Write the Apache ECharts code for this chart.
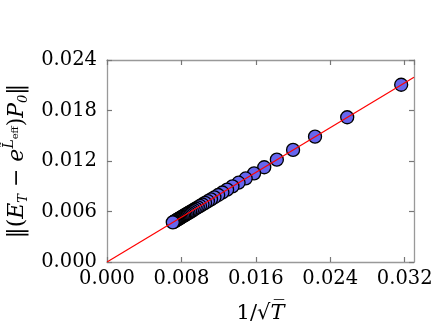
<!DOCTYPE html>
<html>
<head>
<meta charset="utf-8">
<script src="https://cdn.jsdelivr.net/npm/echarts@6/dist/echarts.min.js"></script>
<style>
  html, body { margin: 0; padding: 0; background: #fff; }
  #chart { width: 436px; height: 327px; }
</style>
</head>
<body>
<div id="chart"></div>
<script>
// 1/sqrt(T), T = 1000 ... 20000 (largest first)
const invSqrtT = [
  0.031623, 0.025820, 0.022361, 0.020000, 0.018257, 0.016903, 0.015811, 0.014907,
  0.014142, 0.013484, 0.012910, 0.012403, 0.011952, 0.011547, 0.011180, 0.010847,
  0.010541, 0.010260, 0.010000, 0.009759, 0.009535, 0.009325, 0.009129, 0.008944,
  0.008771, 0.008607, 0.008452, 0.008305, 0.008165, 0.008032, 0.007906, 0.007785,
  0.007670, 0.007559, 0.007454, 0.007352, 0.007255, 0.007161, 0.007071
]
const errNorm = [
  0.021060, 0.017196, 0.014892, 0.013320, 0.012159, 0.011257, 0.010530, 0.009928,
  0.009419, 0.008980, 0.008598, 0.008260, 0.007960, 0.007690, 0.007446, 0.007224,
  0.007020, 0.006833, 0.006660, 0.006499, 0.006350, 0.006210, 0.006080, 0.005957,
  0.005841, 0.005732, 0.005629, 0.005531, 0.005438, 0.005349, 0.005265, 0.005185,
  0.005108, 0.005034, 0.004964, 0.004896, 0.004832, 0.004769, 0.004709
]
// fitted line end points
const fitX = [0, 0.033]
const fitY = [0, 0.02196]

const xTicks = { min: 0, max: 0.033, interval: 0.008 }
const yTicks = { min: 0, max: 0.024, interval: 0.006 }

const FONT = 'DejaVu Serif'
const LINE = '#999'
const TICK = '#777'

const baseAxis = (t) => ({
  type: 'value',
  min: t.min,
  max: t.max,
  interval: t.interval,
  splitLine: { show: false },
  axisLine: { show: true, onZero: false, lineStyle: { color: LINE, width: 1.3 } },
  axisTick: { show: true, inside: true, length: 5, lineStyle: { color: TICK, width: 1.2 } }
})

const txt = (size, extra) => Object.assign({ fontFamily: FONT, fontSize: size, color: '#000' }, extra || {})

const chart = echarts.init(document.getElementById('chart'))
chart.setOption({
  animation: false,
  grid: { left: 107, right: 22, top: 60, bottom: 65, outerBoundsMode: 'none', containLabel: false },
  xAxis: [
    Object.assign(baseAxis(xTicks), {
      position: 'bottom',
      axisLabel: Object.assign(txt(19.5), { margin: 7, formatter: v => v.toFixed(3) }),
      name: '{n|1/√}{i|T̅}',
      nameLocation: 'middle',
      nameGap: 41,
      nameTextStyle: {
        rich: {
          n: txt(21),
          i: txt(21, { fontStyle: 'italic' })
        }
      }
    }),
    Object.assign(baseAxis(xTicks), { position: 'top', axisLabel: { show: false } })
  ],
  yAxis: [
    Object.assign(baseAxis(yTicks), {
      position: 'left',
      axisLabel: Object.assign(txt(19.5), { margin: 10, formatter: v => v.toFixed(3) }),
      name: '{n|‖(}{s|E}{sub|T}{n| − }{s|e}{sup|L̃}{sup2|eff}{n|)}{s|P}{sub|0}{n|‖}',
      nameLocation: 'middle',
      nameGap: 75,
      nameRotate: 90,
      nameTextStyle: {
        rich: {
          n: txt(22, { lineHeight: 30, verticalAlign: 'middle' }),
          s: txt(22, { fontStyle: 'italic', lineHeight: 30, verticalAlign: 'middle' }),
          sub: txt(13, { fontStyle: 'italic', verticalAlign: 'bottom', padding: [0, 0, 2, 0] }),
          sup: txt(14, { fontStyle: 'italic', verticalAlign: 'top' }),
          sup2: txt(10, { verticalAlign: 'top', padding: [8, 0, 0, 0] })
        }
      }
    }),
    Object.assign(baseAxis(yTicks), { position: 'right', axisLabel: { show: false } })
  ],
  series: [
    {
      type: 'scatter',
      data: invSqrtT.map((x, i) => [x, errNorm[i]]),
      symbol: 'circle',
      symbolSize: 13,
      itemStyle: { color: '#6666ee', borderColor: '#000', borderWidth: 1.3, opacity: 1 },
      z: 2
    },
    {
      type: 'line',
      data: fitX.map((x, i) => [x, fitY[i]]),
      showSymbol: false,
      lineStyle: { color: '#ff0000', width: 1.2 },
      z: 3
    }
  ]
})
</script>
</body>
</html>
